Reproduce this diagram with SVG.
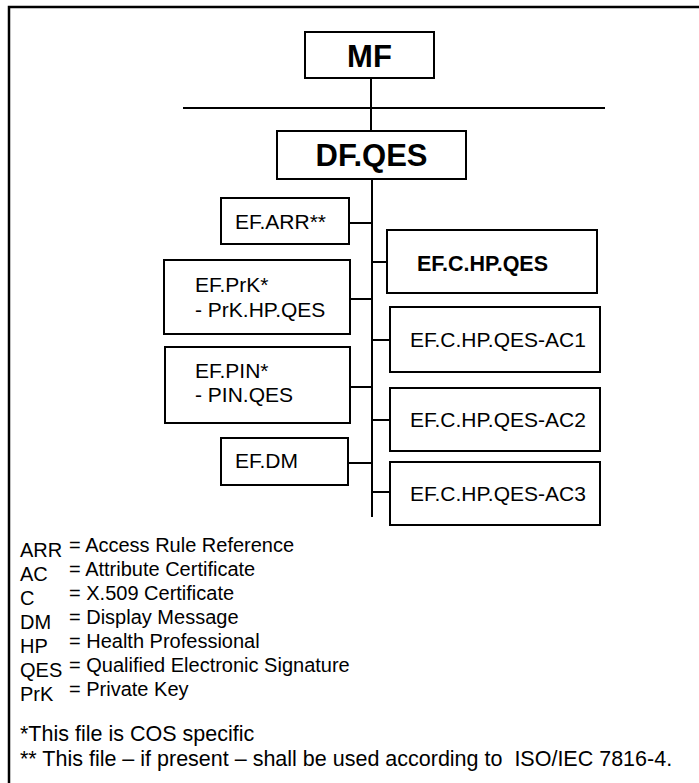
<svg xmlns="http://www.w3.org/2000/svg" width="699" height="783" viewBox="0 0 699 783">
<style>
.box{fill:#fff;stroke:#000;stroke-width:2}
.ln{stroke:#000;stroke-width:2;fill:none}
text{font-family:"Liberation Sans",Arial,sans-serif;fill:#000}
.big{font-size:31px;font-weight:bold;text-anchor:middle}
.t{font-size:21px}
.tb{font-size:21.5px;font-weight:bold}
.ab{font-size:20px}
.ex{font-size:20px}
.fn{font-size:21.5px}
</style>
<rect x="0" y="0" width="699" height="783" fill="#fff"/>
<rect x="9" y="7" width="720" height="800" fill="none" stroke="#000" stroke-width="2.5"/>
<g id="connectors">
<line class="ln" x1="371" y1="78" x2="371" y2="131"/>
<line class="ln" x1="183" y1="108" x2="605" y2="108"/>
<line class="ln" x1="372" y1="179" x2="372" y2="517"/>
<line class="ln" x1="349" y1="223" x2="372" y2="223"/>
<line class="ln" x1="350" y1="299" x2="372" y2="299"/>
<line class="ln" x1="350" y1="387" x2="372" y2="387"/>
<line class="ln" x1="348" y1="463" x2="372" y2="463"/>
<line class="ln" x1="372" y1="262" x2="387" y2="262"/>
<line class="ln" x1="372" y1="340" x2="390" y2="340"/>
<line class="ln" x1="372" y1="420" x2="390" y2="420"/>
<line class="ln" x1="372" y1="492" x2="390" y2="492"/>
</g>
<g id="MF"><rect class="box" x="305" y="32" width="129" height="46"/><text class="big" x="369.5" y="67">MF</text></g>
<g id="DF.QES"><rect class="box" x="277" y="131" width="189" height="48"/><text class="big" x="371.5" y="166">DF.QES</text></g>
<g id="EF.ARR"><rect class="box" x="221" y="198" width="128" height="46"/><text class="t" x="235" y="229">EF.ARR**</text></g>
<g id="EF.PrK"><rect class="box" x="164" y="260" width="186" height="74"/><text class="t" x="195" y="292">EF.PrK*</text><text class="t" x="195" y="317">- PrK.HP.QES</text></g>
<g id="EF.PIN"><rect class="box" x="165" y="347" width="185" height="76"/><text class="t" x="195" y="378">EF.PIN*</text><text class="t" x="195" y="402">- PIN.QES</text></g>
<g id="EF.DM"><rect class="box" x="221" y="438" width="127" height="47"/><text class="t" x="235" y="468">EF.DM</text></g>
<g id="EF.C.HP.QES"><rect class="box" x="387" y="230" width="210" height="63"/><text class="tb" x="417" y="271">EF.C.HP.QES</text></g>
<g id="EF.C.HP.QES-AC1"><rect class="box" x="390" y="307" width="210" height="65"/><text class="t" x="410" y="347">EF.C.HP.QES-AC1</text></g>
<g id="EF.C.HP.QES-AC2"><rect class="box" x="390" y="388" width="210" height="63"/><text class="t" x="410" y="427">EF.C.HP.QES-AC2</text></g>
<g id="EF.C.HP.QES-AC3"><rect class="box" x="390" y="462" width="210" height="63"/><text class="t" x="410" y="501">EF.C.HP.QES-AC3</text></g>
<g id="legend">
<text class="ab" x="20" y="557">ARR</text><text class="ex" x="69" y="552">= Access Rule Reference</text>
<text class="ab" x="20" y="581">AC</text><text class="ex" x="69" y="576">= Attribute Certificate</text>
<text class="ab" x="20" y="605">C</text><text class="ex" x="69" y="600">= X.509 Certificate</text>
<text class="ab" x="20" y="629">DM</text><text class="ex" x="69" y="624">= Display Message</text>
<text class="ab" x="20" y="653">HP</text><text class="ex" x="69" y="648">= Health Professional</text>
<text class="ab" x="20" y="677">QES</text><text class="ex" x="69" y="672">= Qualified Electronic Signature</text>
<text class="ab" x="20" y="701">PrK</text><text class="ex" x="69" y="696">= Private Key</text>
<text class="fn" x="20" y="741">*This file is COS specific</text>
<text class="fn" x="20" y="766">** This file – if present – shall be used according to&#160; ISO/IEC 7816-4.</text>
</g>
</svg>
